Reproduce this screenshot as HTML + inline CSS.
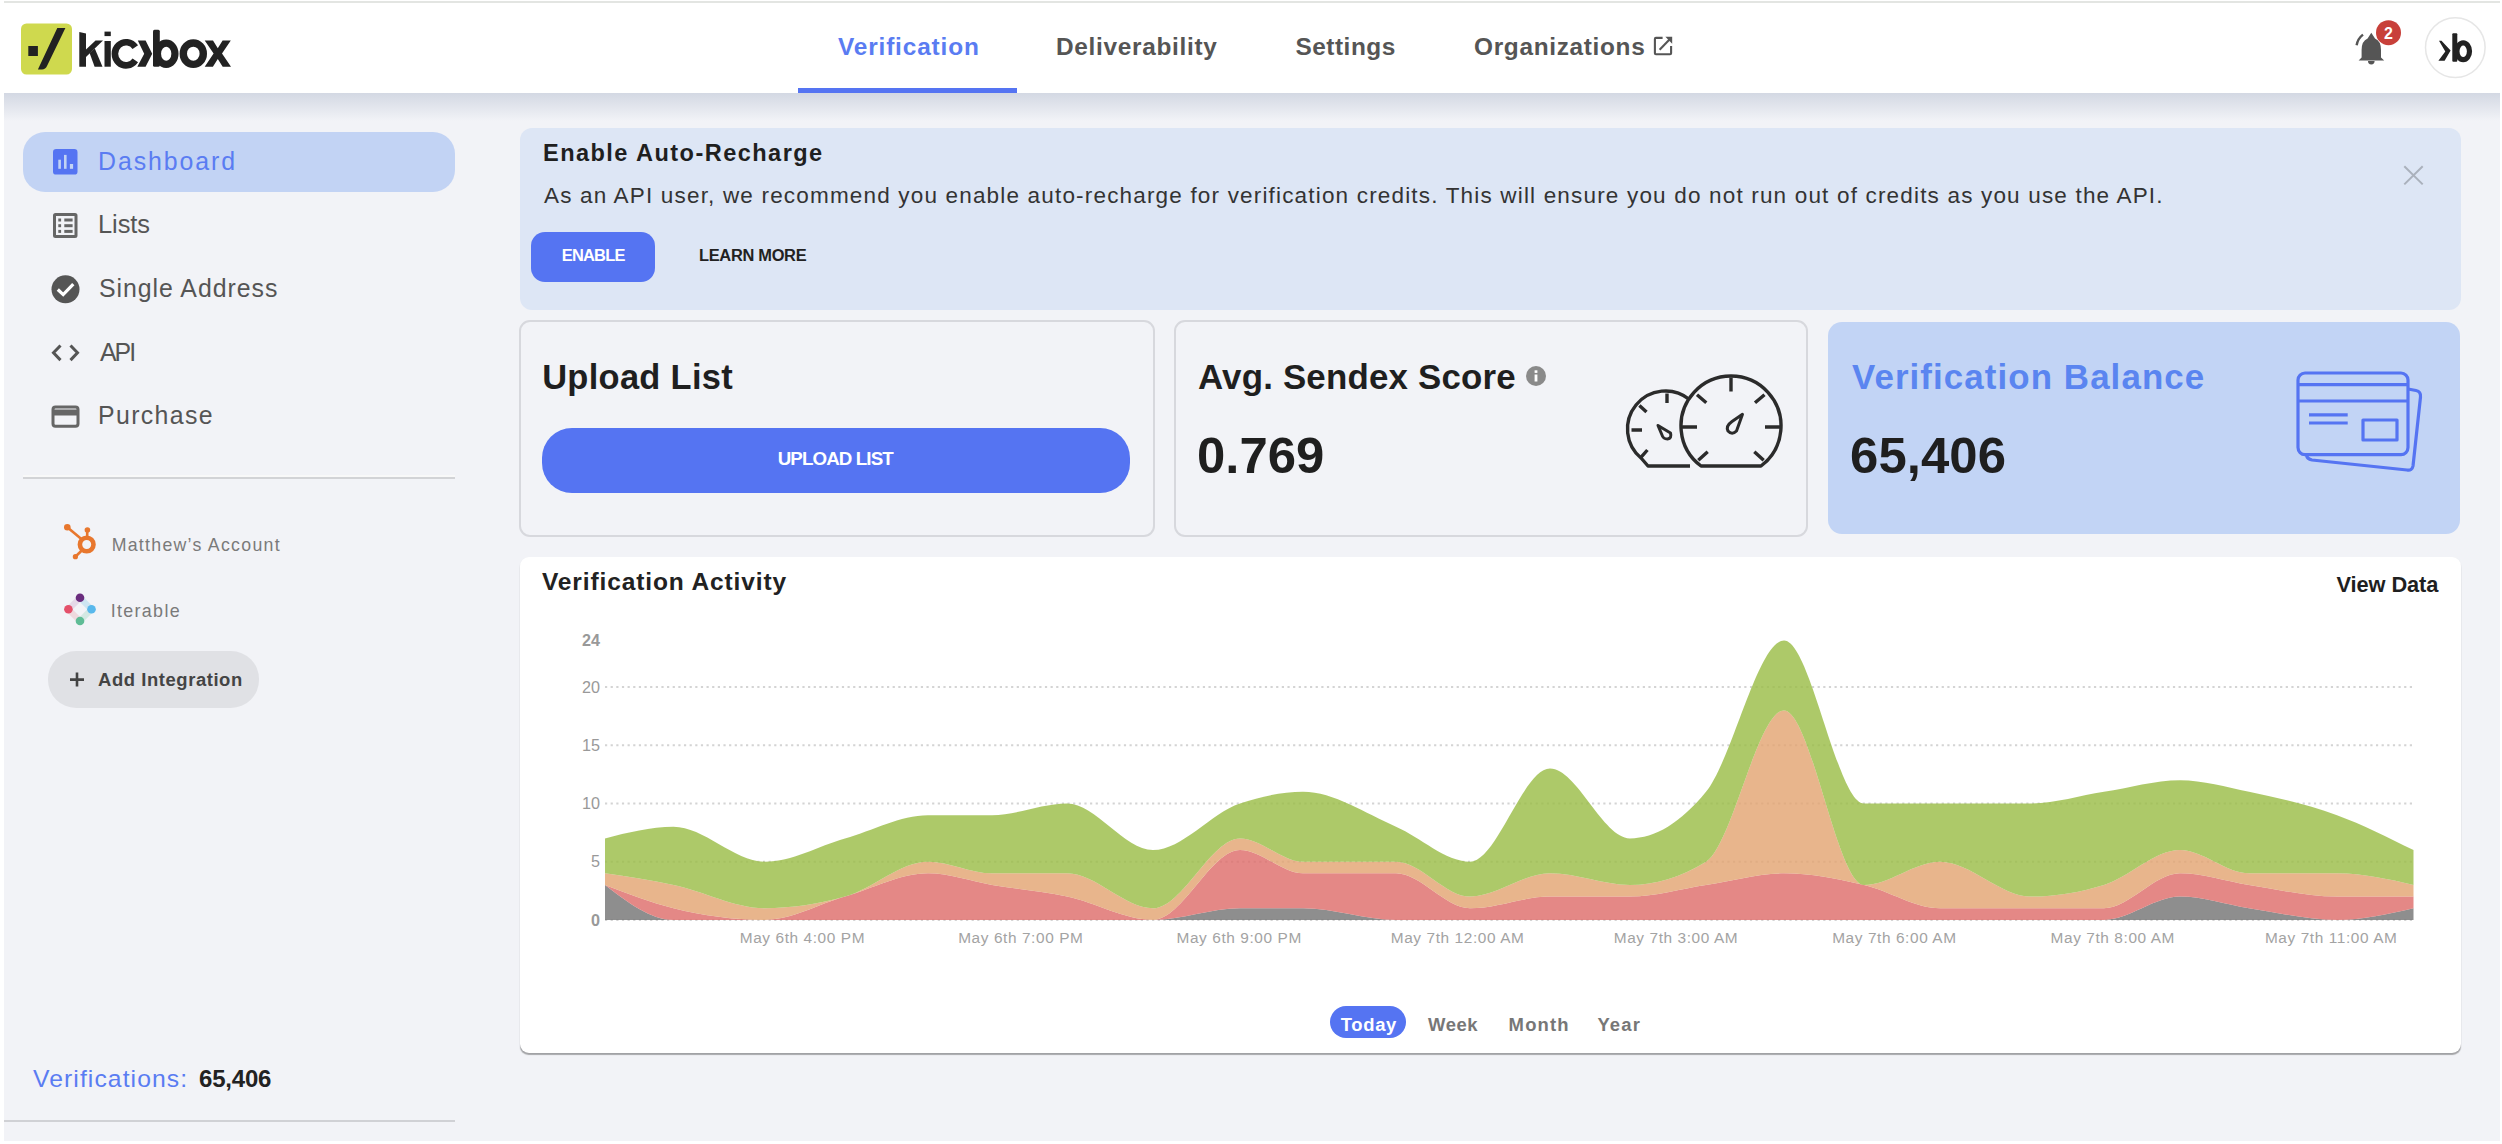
<!DOCTYPE html><html><head><meta charset="utf-8"><title>Kickbox Dashboard</title><style>
html,body{margin:0;padding:0;}body{width:2502px;height:1144px;position:relative;overflow:hidden;background:#fff;font-family:"Liberation Sans", sans-serif;}
.a{position:absolute;}.t{position:absolute;white-space:nowrap;}
</style></head><body>
<div class="a" style="left:4px;top:1px;width:2496px;height:2px;background:#e3e5e2"></div>
<div class="a" style="left:4px;top:93px;width:2496px;height:1048px;background:#f2f3f7"></div>
<div class="a" style="left:4px;top:93px;width:2496px;height:28px;background:linear-gradient(#d3d8e3,rgba(242,243,247,0))"></div>
<!-- logo -->
<svg class="a" style="left:0;top:0" width="260" height="93" viewBox="0 0 260 93">
  <rect x="21" y="23.5" width="51" height="51" rx="5.5" fill="#cfd94e"/>
  <rect x="28.3" y="46" width="9.6" height="10" fill="#222"/>
  <path d="M57.3,28 L65.4,28 L47,66 Q45.5,69.4 42,69.4 L37.9,69.4 Z" fill="#222"/>
  <g fill="#222">
    <path d="M79.3,32 L86,33.5 L86,66.7 L79.3,66.7 Z"/>
    <path d="M86,49.5 L95.5,40.6 L103,40.6 L86,57 Z"/>
    <path d="M89.6,53 L94.8,48.5 L102.5,66.7 L94.6,66.7 Z"/>
    <rect x="104.5" y="41" width="6.3" height="25.7"/>
    <rect x="104.5" y="31.6" width="6.3" height="4.5"/>
  </g>
  <path d="M135.3,47.2 A11.2,11.6 0 1 0 135.3,60.4" fill="none" stroke="#222" stroke-width="6.6"/>
  <path d="M137.8,40.6 L145.6,40.6 L152.2,53.7 L145.6,66.7 L137.3,66.7 L144.2,53.7 Z" fill="#222"/>
  <rect x="153" y="29.8" width="6.8" height="36.9" rx="1.5" fill="#222"/>
  <ellipse cx="166.2" cy="53.7" rx="8.75" ry="10.6" fill="none" stroke="#222" stroke-width="7.2"/>
  <ellipse cx="193.3" cy="53.65" rx="10" ry="10.7" fill="none" stroke="#222" stroke-width="7.4"/>
  <path d="M204.7,40.6 L213,40.6 L217.8,48.2 L222.6,40.6 L230.8,40.6 L222,53.6 L231,66.7 L222.7,66.7 L217.8,59 L212.9,66.7 L204.7,66.7 L213.6,53.6 Z" fill="#222"/>
</svg>
<!-- external link icon -->
<svg class="a" style="left:1650px;top:34px" width="26" height="26" viewBox="1650 34 26 26">
  <path d="M1662.6,37.9 L1655.9,37.9 Q1654.9,37.9 1654.9,38.9 L1654.9,53.2 Q1654.9,54.2 1655.9,54.2 L1670.1,54.2 Q1671.1,54.2 1671.1,53.2 L1671.1,46" fill="none" stroke="#555" stroke-width="2.1"/>
  <path d="M1659.6,49.7 L1669.5,39.6" stroke="#555" stroke-width="2.1"/>
  <path d="M1665.4,36.8 L1672.2,36.8 L1672.2,43.8 Z" fill="#555"/>
</svg>
<!-- nav underline -->
<div class="a" style="left:798px;top:88px;width:219px;height:5px;background:#5574f2"></div>
<!-- bell -->
<svg class="a" style="left:2340px;top:15px" width="70" height="60" viewBox="2340 15 70 60">
  <path d="M2371.3,32.7 L2375,38.5 Q2381,41 2381,50 L2381,57.5 L2384.2,60.6 L2358.6,60.6 L2361.6,57.5 L2361.6,50 Q2361.6,41 2367.6,38.5 Z" fill="#555"/>
  <path d="M2368,61 L2374.6,61 Q2374.6,64.4 2371.3,64.4 Q2368,64.4 2368,61 Z" fill="#555"/>
  <path d="M2356.6,45.2 Q2357.8,38.5 2363,34.6" fill="none" stroke="#555" stroke-width="2.4"/>
  <circle cx="2388.5" cy="32.7" r="12.5" fill="#c8403a"/>
  <text x="2388.5" y="38.6" text-anchor="middle" font-family="Liberation Sans" font-weight="700" font-size="16" fill="#fff">2</text>
</svg>
<!-- avatar -->
<svg class="a" style="left:2420px;top:12px" width="72" height="72" viewBox="2420 12 72 72">
  <circle cx="2455.3" cy="47.6" r="29.8" fill="#fff" stroke="#e6e6e6" stroke-width="1.5"/>
  <path d="M2439,40.8 L2441.5,40.8 L2450.6,50.5 L2444.6,60.8 L2438.4,60.8 L2445.3,51.5 Z" fill="#222"/>
  <rect x="2452.3" y="33.2" width="5" height="28.6" rx="1" fill="#222"/>
  <ellipse cx="2463.2" cy="51.3" rx="6.3" ry="8.4" fill="none" stroke="#222" stroke-width="5.2"/>
</svg>
<!-- sidebar active pill -->
<div class="a" style="left:23px;top:132px;width:432px;height:60px;border-radius:22px;background:#c2d3f4"></div>
<!-- sidebar icons -->
<svg class="a" style="left:40px;top:140px" width="50" height="300" viewBox="40 140 50 300">
  <rect x="53" y="149" width="24.5" height="25.6" rx="3.2" fill="#5574f2"/>
  <rect x="58.3" y="159.7" width="2.6" height="9.1" fill="#c2d3f4"/>
  <rect x="64" y="154.9" width="2.6" height="13.9" fill="#c2d3f4"/>
  <rect x="69.9" y="164" width="3.2" height="4.8" fill="#c2d3f4"/>
  <rect x="54.5" y="214.5" width="21.5" height="22" rx="1" fill="none" stroke="#666" stroke-width="3"/>
  <g fill="#666">
    <rect x="58.3" y="218.5" width="2.8" height="3"/><rect x="64.3" y="218.5" width="8.3" height="3"/>
    <rect x="58.3" y="224.2" width="2.8" height="3"/><rect x="64.3" y="224.2" width="8.3" height="3"/>
    <rect x="58.3" y="229.9" width="2.8" height="3"/><rect x="64.3" y="229.9" width="8.3" height="3"/>
  </g>
  <circle cx="65.5" cy="289.3" r="14" fill="#555"/>
  <path d="M57.8,289.5 L63.2,294.6 L73.3,284.2" fill="none" stroke="#fff" stroke-width="3.2"/>
  <path d="M60.5,345.5 L53.5,352.8 L60.5,360.1 M70.5,345.5 L77.5,352.8 L70.5,360.1" fill="none" stroke="#555" stroke-width="3"/>
  <rect x="53" y="407" width="25" height="19.2" rx="2.5" fill="none" stroke="#666" stroke-width="3"/>
  <rect x="53" y="409.5" width="25" height="6" fill="#666"/>
</svg>
<!-- sidebar divider -->
<div class="a" style="left:23px;top:475px;width:432px;height:1.5px;background:#f8f8f8"></div><div class="a" style="left:23px;top:476.5px;width:432px;height:2px;background:#d2d3d6"></div>
<!-- hubspot + iterable -->
<svg class="a" style="left:55px;top:515px" width="50" height="120" viewBox="55 515 50 120">
  <g stroke="#e8772e" fill="#e8772e">
    <circle cx="86.7" cy="544.5" r="6.8" fill="none" stroke-width="4.6"/>
    <line x1="87.2" y1="531" x2="87.2" y2="538" stroke-width="2.6"/>
    <circle cx="87.4" cy="530" r="2.8" stroke="none"/>
    <line x1="67.3" y1="527.3" x2="82" y2="539.5" stroke-width="2.6"/>
    <circle cx="67.3" cy="527.3" r="3.3" stroke="none"/>
    <line x1="75.4" y1="556.7" x2="82.5" y2="549.8" stroke-width="2.6"/>
    <circle cx="75.4" cy="556.7" r="2.6" stroke="none"/>
  </g>
  <g stroke-width="6" opacity="0.3">
    <line x1="80" y1="597.8" x2="91.5" y2="609.3" stroke="#7fc6e8"/>
    <line x1="91.5" y1="609.3" x2="80" y2="621" stroke="#8fd0b8"/>
    <line x1="80" y1="621" x2="68.4" y2="609.3" stroke="#e9a0a8"/>
    <line x1="68.4" y1="609.3" x2="80" y2="597.8" stroke="#c9a0c8"/>
  </g>
  <circle cx="80" cy="597.8" r="4.3" fill="#6a2c7e"/>
  <circle cx="68.4" cy="609.3" r="4.3" fill="#e4506a"/>
  <circle cx="91.5" cy="609.3" r="4.3" fill="#59b8ec"/>
  <circle cx="80" cy="621" r="4.3" fill="#5fbc96"/>
</svg>
<!-- add integration btn -->
<div class="a" style="left:48px;top:651px;width:211px;height:57px;border-radius:28px;background:#e0e1e5"></div>
<svg class="a" style="left:65px;top:670px" width="24" height="20" viewBox="65 670 24 20">
  <path d="M77,672.5 L77,686.5 M70,679.6 L84,679.6" stroke="#444" stroke-width="2.6"/>
</svg>
<!-- bottom divider -->
<div class="a" style="left:4px;top:1120px;width:451px;height:2px;background:#d0d1d5"></div>
<!-- banner -->
<div class="a" style="left:520px;top:128px;width:1941px;height:182px;border-radius:12px;background:#dde6f5"></div>
<div class="a" style="left:531px;top:231.5px;width:124px;height:50.5px;border-radius:14px;background:#5574f2"></div>
<svg class="a" style="left:2400px;top:162px" width="28" height="28" viewBox="2400 162 28 28">
  <path d="M2404.3,166.3 L2422.7,184.4 M2422.7,166.3 L2404.3,184.4" stroke="#aab1bc" stroke-width="2"/>
</svg>
<!-- cards -->
<div class="a" style="left:518.5px;top:319.5px;width:632px;height:213px;border:2px solid #d7d8dd;border-radius:11px"></div>
<div class="a" style="left:542px;top:428px;width:588px;height:65px;border-radius:30px;background:#5574f2"></div>
<div class="a" style="left:1173.5px;top:319.5px;width:630px;height:213px;border:2px solid #d7d8dd;border-radius:11px"></div>
<svg class="a" style="left:1520px;top:360px" width="32" height="32" viewBox="1520 360 32 32">
  <circle cx="1536" cy="376" r="10" fill="#8a8a8a"/>
  <rect x="1534.6" y="374.5" width="2.8" height="7" fill="#fff"/>
  <rect x="1534.6" y="370.3" width="2.8" height="2.6" fill="#fff"/>
</svg>
<!-- gauge icon -->
<svg class="a" style="left:1615px;top:365px" width="180" height="115" viewBox="1615 365 180 115">
  <g fill="none" stroke="#2b2b2b" stroke-width="3.4" stroke-linejoin="round" stroke-linecap="butt">
    <path d="M1690,466 L1648,466 L1641.5,458.5 A38,38 0 0 1 1689.5,399.5"/>
    <path d="M1667,393.5 L1667,403 M1631.5,430 L1642,430 M1639.4,405.4 L1646.5,412 M1640.7,457.6 L1647.4,450"/>
    <path d="M1658,425.5 L1670.5,433 Q1672,438.5 1667.5,439 Q1663,439 1662,435 Z" stroke-width="3"/>
    <path d="M1701,466 L1761,466 A50,50 0 1 0 1701,466 Z"/>
    <path d="M1731,377.5 L1731,391.5 M1681.5,427 L1697,427 M1765,427 L1781,427 M1697,394.7 L1706.3,402.7 M1764.5,394.7 L1755,402.7 M1698.3,460.3 L1707.7,451.8 M1763.7,460.3 L1754.3,451.8"/>
    <path d="M1742.5,414.3 L1732,421.5 Q1725.5,426 1728,431 Q1732,435.5 1736.5,431 Z" stroke-width="3"/>
  </g>
</svg>
<div class="a" style="left:1828px;top:321.5px;width:632px;height:212.5px;border-radius:14px;background:#c2d4f5"></div>
<!-- credit card icon -->
<svg class="a" style="left:2290px;top:365px" width="140" height="115" viewBox="2290 365 140 115">
  <g fill="none" stroke="#5574f2" stroke-width="3.2" stroke-linejoin="round">
    <rect x="2298" y="373" width="110" height="81.6" rx="7"/>
    <path d="M2298,384.6 L2408,384.6 M2298,401 L2408,401"/>
    <path d="M2309,414.8 L2347.7,414.8 M2309,423 L2347.7,423"/>
    <rect x="2363" y="420" width="34" height="20"/>
    <path d="M2408,389 L2416,390.5 Q2421,391.5 2420.5,397 L2413,466 Q2412,471 2407,470 L2312,460 Q2307,459 2306.5,455"/>
  </g>
</svg>
<!-- chart card -->
<div class="a" style="left:520px;top:557px;width:1940.5px;height:495.5px;border-radius:9px;background:#fff;box-shadow:0 2.5px 1px -0.5px rgba(0,0,0,.3),0 1px 2px 0 rgba(0,0,0,.06)"></div>
<!-- today pill -->
<div class="a" style="left:1330.4px;top:1006px;width:75.6px;height:32.3px;border-radius:16px;background:#5574f2"></div>

<svg class="a" style="left:0;top:0" width="2502" height="1144" viewBox="0 0 2502 1144"><line x1="605" y1="919.9" x2="2414.5" y2="919.9" stroke="#d4d4d4" stroke-width="2" stroke-dasharray="2.2 3.44"/><line x1="605" y1="861.7" x2="2414.5" y2="861.7" stroke="#d4d4d4" stroke-width="2" stroke-dasharray="2.2 3.44"/><line x1="605" y1="803.5" x2="2414.5" y2="803.5" stroke="#d4d4d4" stroke-width="2" stroke-dasharray="2.2 3.44"/><line x1="605" y1="745.3" x2="2414.5" y2="745.3" stroke="#d4d4d4" stroke-width="2" stroke-dasharray="2.2 3.44"/><line x1="605" y1="687.1" x2="2414.5" y2="687.1" stroke="#d4d4d4" stroke-width="2" stroke-dasharray="2.2 3.44"/><path d="M605,884.98C627.83,902.44,650.67,919.9,673.5,919.9C704,919.9,734.5,919.9,765,919.9C791.67,919.9,818.33,919.9,845,919.9C872.67,919.9,900.33,919.9,928,919.9C949.33,919.9,970.67,919.9,992,919.9C1017,919.9,1042,919.9,1067,919.9C1095.67,919.9,1124.33,919.9,1153,919.9C1182,919.9,1211,908.26,1240,908.26C1261,908.26,1282,908.26,1303,908.26C1334,908.26,1365,919.9,1396,919.9C1420.67,919.9,1445.33,919.9,1470,919.9C1496.67,919.9,1523.33,919.9,1550,919.9C1576.67,919.9,1603.33,919.9,1630,919.9C1655.33,919.9,1680.67,919.9,1706,919.9C1732,919.9,1758,919.9,1784,919.9C1810.67,919.9,1837.33,919.9,1864,919.9C1889.33,919.9,1914.67,919.9,1940,919.9C1970.33,919.9,2000.67,919.9,2031,919.9C2055.33,919.9,2079.67,919.9,2104,919.9C2129.33,919.9,2154.67,896.62,2180,896.62C2203,896.62,2226,904.75,2249,908.26C2278.33,912.74,2307.67,919.9,2337,919.9C2362.5,919.9,2388,914.08,2413.5,908.26L2413.5,919.9C2388,919.9,2362.5,919.9,2337,919.9C2307.67,919.9,2278.33,919.9,2249,919.9C2226,919.9,2203,919.9,2180,919.9C2154.67,919.9,2129.33,919.9,2104,919.9C2079.67,919.9,2055.33,919.9,2031,919.9C2000.67,919.9,1970.33,919.9,1940,919.9C1914.67,919.9,1889.33,919.9,1864,919.9C1837.33,919.9,1810.67,919.9,1784,919.9C1758,919.9,1732,919.9,1706,919.9C1680.67,919.9,1655.33,919.9,1630,919.9C1603.33,919.9,1576.67,919.9,1550,919.9C1523.33,919.9,1496.67,919.9,1470,919.9C1445.33,919.9,1420.67,919.9,1396,919.9C1365,919.9,1334,919.9,1303,919.9C1282,919.9,1261,919.9,1240,919.9C1211,919.9,1182,919.9,1153,919.9C1124.33,919.9,1095.67,919.9,1067,919.9C1042,919.9,1017,919.9,992,919.9C970.67,919.9,949.33,919.9,928,919.9C900.33,919.9,872.67,919.9,845,919.9C818.33,919.9,791.67,919.9,765,919.9C734.5,919.9,704,919.9,673.5,919.9C650.67,919.9,627.83,919.9,605,919.9Z" fill="#727272" fill-opacity="0.8"/><path d="M605,884.98C627.83,893.78,650.67,902.58,673.5,908.26C704,915.85,734.5,919.9,765,919.9C791.67,919.9,818.33,904.24,845,896.62C872.67,888.71,900.33,873.34,928,873.34C949.33,873.34,970.67,881.36,992,884.98C1017,889.22,1042,891.39,1067,896.62C1095.67,902.61,1124.33,919.9,1153,919.9C1182,919.9,1211,850.06,1240,850.06C1261,850.06,1282,873.34,1303,873.34C1334,873.34,1365,873.34,1396,873.34C1420.67,873.34,1445.33,908.26,1470,908.26C1496.67,908.26,1523.33,896.62,1550,896.62C1576.67,896.62,1603.33,896.62,1630,896.62C1655.33,896.62,1680.67,888.81,1706,884.98C1732,881.05,1758,873.34,1784,873.34C1810.67,873.34,1837.33,878.9,1864,884.98C1889.33,890.76,1914.67,908.26,1940,908.26C1970.33,908.26,2000.67,908.26,2031,908.26C2055.33,908.26,2079.67,908.26,2104,908.26C2129.33,908.26,2154.67,873.34,2180,873.34C2203,873.34,2226,881.47,2249,884.98C2278.33,889.46,2307.67,896.62,2337,896.62C2362.5,896.62,2388,896.62,2413.5,896.62L2413.5,908.26C2388,914.08,2362.5,919.9,2337,919.9C2307.67,919.9,2278.33,912.74,2249,908.26C2226,904.75,2203,896.62,2180,896.62C2154.67,896.62,2129.33,919.9,2104,919.9C2079.67,919.9,2055.33,919.9,2031,919.9C2000.67,919.9,1970.33,919.9,1940,919.9C1914.67,919.9,1889.33,919.9,1864,919.9C1837.33,919.9,1810.67,919.9,1784,919.9C1758,919.9,1732,919.9,1706,919.9C1680.67,919.9,1655.33,919.9,1630,919.9C1603.33,919.9,1576.67,919.9,1550,919.9C1523.33,919.9,1496.67,919.9,1470,919.9C1445.33,919.9,1420.67,919.9,1396,919.9C1365,919.9,1334,908.26,1303,908.26C1282,908.26,1261,908.26,1240,908.26C1211,908.26,1182,919.9,1153,919.9C1124.33,919.9,1095.67,919.9,1067,919.9C1042,919.9,1017,919.9,992,919.9C970.67,919.9,949.33,919.9,928,919.9C900.33,919.9,872.67,919.9,845,919.9C818.33,919.9,791.67,919.9,765,919.9C734.5,919.9,704,919.9,673.5,919.9C650.67,919.9,627.83,902.44,605,884.98Z" fill="#dd6a68" fill-opacity="0.8"/><path d="M605,873.34C627.83,876.81,650.67,880.27,673.5,884.98C704,891.27,734.5,908.26,765,908.26C791.67,908.26,818.33,904.1,845,896.62C872.67,888.86,900.33,861.7,928,861.7C949.33,861.7,970.67,873.34,992,873.34C1017,873.34,1042,873.34,1067,873.34C1095.67,873.34,1124.33,908.26,1153,908.26C1182,908.26,1211,838.42,1240,838.42C1261,838.42,1282,861.7,1303,861.7C1334,861.7,1365,861.7,1396,861.7C1420.67,861.7,1445.33,896.62,1470,896.62C1496.67,896.62,1523.33,873.34,1550,873.34C1576.67,873.34,1603.33,884.98,1630,884.98C1655.33,884.98,1680.67,877.22,1706,861.7C1732,845.77,1758,710.38,1784,710.38C1810.67,710.38,1837.33,884.98,1864,884.98C1889.33,884.98,1914.67,861.7,1940,861.7C1970.33,861.7,2000.67,896.62,2031,896.62C2055.33,896.62,2079.67,892.44,2104,884.98C2129.33,877.22,2154.67,850.06,2180,850.06C2203,850.06,2226,873.34,2249,873.34C2278.33,873.34,2307.67,873.34,2337,873.34C2362.5,873.34,2388,879.16,2413.5,884.98L2413.5,896.62C2388,896.62,2362.5,896.62,2337,896.62C2307.67,896.62,2278.33,889.46,2249,884.98C2226,881.47,2203,873.34,2180,873.34C2154.67,873.34,2129.33,908.26,2104,908.26C2079.67,908.26,2055.33,908.26,2031,908.26C2000.67,908.26,1970.33,908.26,1940,908.26C1914.67,908.26,1889.33,890.76,1864,884.98C1837.33,878.9,1810.67,873.34,1784,873.34C1758,873.34,1732,881.05,1706,884.98C1680.67,888.81,1655.33,896.62,1630,896.62C1603.33,896.62,1576.67,896.62,1550,896.62C1523.33,896.62,1496.67,908.26,1470,908.26C1445.33,908.26,1420.67,873.34,1396,873.34C1365,873.34,1334,873.34,1303,873.34C1282,873.34,1261,850.06,1240,850.06C1211,850.06,1182,919.9,1153,919.9C1124.33,919.9,1095.67,902.61,1067,896.62C1042,891.39,1017,889.22,992,884.98C970.67,881.36,949.33,873.34,928,873.34C900.33,873.34,872.67,888.71,845,896.62C818.33,904.24,791.67,919.9,765,919.9C734.5,919.9,704,915.85,673.5,908.26C650.67,902.58,627.83,893.78,605,884.98Z" fill="#e2a26f" fill-opacity="0.8"/><path d="M605,838.42C627.83,832.6,650.67,826.78,673.5,826.78C704,826.78,734.5,861.7,765,861.7C791.67,861.7,818.33,846.04,845,838.42C872.67,830.51,900.33,815.14,928,815.14C949.33,815.14,970.67,815.14,992,815.14C1017,815.14,1042,803.5,1067,803.5C1095.67,803.5,1124.33,850.06,1153,850.06C1182,850.06,1211,813.13,1240,803.5C1261,796.53,1282,791.86,1303,791.86C1334,791.86,1365,813.48,1396,826.78C1420.67,837.37,1445.33,861.7,1470,861.7C1496.67,861.7,1523.33,768.58,1550,768.58C1576.67,768.58,1603.33,838.42,1630,838.42C1655.33,838.42,1680.67,822.9,1706,791.86C1732,760,1758,640.54,1784,640.54C1810.67,640.54,1837.33,803.5,1864,803.5C1889.33,803.5,1914.67,803.5,1940,803.5C1970.33,803.5,2000.67,803.5,2031,803.5C2055.33,803.5,2079.67,795.66,2104,791.86C2129.33,787.9,2154.67,780.22,2180,780.22C2203,780.22,2226,787.01,2249,791.86C2278.33,798.04,2307.67,804.37,2337,815.14C2362.5,824.5,2388,837.28,2413.5,850.06L2413.5,884.98C2388,879.16,2362.5,873.34,2337,873.34C2307.67,873.34,2278.33,873.34,2249,873.34C2226,873.34,2203,850.06,2180,850.06C2154.67,850.06,2129.33,877.22,2104,884.98C2079.67,892.44,2055.33,896.62,2031,896.62C2000.67,896.62,1970.33,861.7,1940,861.7C1914.67,861.7,1889.33,884.98,1864,884.98C1837.33,884.98,1810.67,710.38,1784,710.38C1758,710.38,1732,845.77,1706,861.7C1680.67,877.22,1655.33,884.98,1630,884.98C1603.33,884.98,1576.67,873.34,1550,873.34C1523.33,873.34,1496.67,896.62,1470,896.62C1445.33,896.62,1420.67,861.7,1396,861.7C1365,861.7,1334,861.7,1303,861.7C1282,861.7,1261,838.42,1240,838.42C1211,838.42,1182,908.26,1153,908.26C1124.33,908.26,1095.67,873.34,1067,873.34C1042,873.34,1017,873.34,992,873.34C970.67,873.34,949.33,861.7,928,861.7C900.33,861.7,872.67,888.86,845,896.62C818.33,904.1,791.67,908.26,765,908.26C734.5,908.26,704,891.27,673.5,884.98C650.67,880.27,627.83,876.81,605,873.34Z" fill="#98bb43" fill-opacity="0.8"/></svg>
<div class="t" style="left:540px;width:60px;text-align:right;top:632.1px;font-size:16.2px;line-height:16.2px;color:#999;font-weight:700">24</div>
<div class="t" style="left:540px;width:60px;text-align:right;top:678.7px;font-size:16.2px;line-height:16.2px;color:#999;font-weight:400">20</div>
<div class="t" style="left:540px;width:60px;text-align:right;top:736.9px;font-size:16.2px;line-height:16.2px;color:#999;font-weight:400">15</div>
<div class="t" style="left:540px;width:60px;text-align:right;top:795.1px;font-size:16.2px;line-height:16.2px;color:#999;font-weight:400">10</div>
<div class="t" style="left:540px;width:60px;text-align:right;top:853.3px;font-size:16.2px;line-height:16.2px;color:#999;font-weight:400">5</div>
<div class="t" style="left:540px;width:60px;text-align:right;top:911.5px;font-size:16.2px;line-height:16.2px;color:#999;font-weight:700">0</div>
<div class="t" style="left:702.4px;width:200px;text-align:center;top:929.8px;font-size:15.4px;line-height:15.4px;color:#a3a3a3;letter-spacing:0.6px">May 6th 4:00 PM</div>
<div class="t" style="left:920.8px;width:200px;text-align:center;top:929.8px;font-size:15.4px;line-height:15.4px;color:#a3a3a3;letter-spacing:0.6px">May 6th 7:00 PM</div>
<div class="t" style="left:1139.2px;width:200px;text-align:center;top:929.8px;font-size:15.4px;line-height:15.4px;color:#a3a3a3;letter-spacing:0.6px">May 6th 9:00 PM</div>
<div class="t" style="left:1357.6px;width:200px;text-align:center;top:929.8px;font-size:15.4px;line-height:15.4px;color:#a3a3a3;letter-spacing:0.6px">May 7th 12:00 AM</div>
<div class="t" style="left:1576.0px;width:200px;text-align:center;top:929.8px;font-size:15.4px;line-height:15.4px;color:#a3a3a3;letter-spacing:0.6px">May 7th 3:00 AM</div>
<div class="t" style="left:1794.4px;width:200px;text-align:center;top:929.8px;font-size:15.4px;line-height:15.4px;color:#a3a3a3;letter-spacing:0.6px">May 7th 6:00 AM</div>
<div class="t" style="left:2012.8px;width:200px;text-align:center;top:929.8px;font-size:15.4px;line-height:15.4px;color:#a3a3a3;letter-spacing:0.6px">May 7th 8:00 AM</div>
<div class="t" style="left:2231.2px;width:200px;text-align:center;top:929.8px;font-size:15.4px;line-height:15.4px;color:#a3a3a3;letter-spacing:0.6px">May 7th 11:00 AM</div>
<div class="t" style="left:838.0px;top:34.8px;font-size:24.42px;line-height:24.42px;font-weight:700;color:#5a7cf2;letter-spacing:0.84px">Verification</div>
<div class="t" style="left:1056.0px;top:34.8px;font-size:24.42px;line-height:24.42px;font-weight:700;color:#555555;letter-spacing:0.69px">Deliverability</div>
<div class="t" style="left:1295.5px;top:34.8px;font-size:24.42px;line-height:24.42px;font-weight:700;color:#555555;letter-spacing:0.50px">Settings</div>
<div class="t" style="left:1474.0px;top:34.8px;font-size:24.42px;line-height:24.42px;font-weight:700;color:#555555;letter-spacing:0.67px">Organizations</div>
<div class="t" style="left:98.1px;top:149.0px;font-size:24.86px;line-height:24.86px;font-weight:400;color:#5a7cf2;letter-spacing:1.91px">Dashboard</div>
<div class="t" style="left:98.0px;top:212.1px;font-size:25.44px;line-height:25.44px;font-weight:400;color:#555555;letter-spacing:-0.08px">Lists</div>
<div class="t" style="left:99.0px;top:275.8px;font-size:24.86px;line-height:24.86px;font-weight:400;color:#555555;letter-spacing:0.96px">Single Address</div>
<div class="t" style="left:100.0px;top:339.8px;font-size:24.86px;line-height:24.86px;font-weight:400;color:#555555;letter-spacing:-2.00px">API</div>
<div class="t" style="left:98.0px;top:403.0px;font-size:24.86px;line-height:24.86px;font-weight:400;color:#555555;letter-spacing:1.36px">Purchase</div>
<div class="t" style="left:111.7px;top:537.4px;font-size:17.73px;line-height:17.73px;font-weight:400;color:#7a7a7a;letter-spacing:1.28px">Matthew’s Account</div>
<div class="t" style="left:110.7px;top:602.5px;font-size:17.88px;line-height:17.88px;font-weight:400;color:#7a7a7a;letter-spacing:1.34px">Iterable</div>
<div class="t" style="left:98.0px;top:671.2px;font-size:18.46px;line-height:18.46px;font-weight:700;color:#444444;letter-spacing:0.57px">Add Integration</div>
<div class="t" style="left:33.0px;top:1067.1px;font-size:24.71px;line-height:24.71px;font-weight:400;color:#5a7cf2;letter-spacing:1.08px">Verifications:</div>
<div class="t" style="left:199.0px;top:1066.7px;font-size:24.01px;line-height:24.01px;font-weight:700;color:#222222;letter-spacing:-0.20px">65,406</div>
<div class="t" style="left:543.0px;top:141.5px;font-size:23.55px;line-height:23.55px;font-weight:700;color:#1f1f1f;letter-spacing:1.45px">Enable Auto-Recharge</div>
<div class="t" style="left:544.0px;top:184.8px;font-size:22.53px;line-height:22.53px;font-weight:400;color:#333333;letter-spacing:1.17px">As an API user, we recommend you enable auto-recharge for verification credits. This will ensure you do not run out of credits as you use the API.</div>
<div class="t" style="left:561.7px;top:247.1px;font-size:16.42px;line-height:16.42px;font-weight:700;color:#ffffff;letter-spacing:-0.74px">ENABLE</div>
<div class="t" style="left:699.0px;top:247.1px;font-size:16.42px;line-height:16.42px;font-weight:700;color:#222222;letter-spacing:-0.30px">LEARN MORE</div>
<div class="t" style="left:542.2px;top:359.6px;font-size:34.45px;line-height:34.45px;font-weight:700;color:#1f1f1f;letter-spacing:0.30px">Upload List</div>
<div class="t" style="left:777.7px;top:449.9px;font-size:18.75px;line-height:18.75px;font-weight:700;color:#ffffff;letter-spacing:-0.90px">UPLOAD LIST</div>
<div class="t" style="left:1198.0px;top:359.7px;font-size:34.88px;line-height:34.88px;font-weight:700;color:#1f1f1f;letter-spacing:0.19px">Avg. Sendex Score</div>
<div class="t" style="left:1197.0px;top:431.0px;font-size:50.85px;line-height:50.85px;font-weight:700;color:#1f1f1f;letter-spacing:0.00px">0.769</div>
<div class="t" style="left:1852.0px;top:359.7px;font-size:34.88px;line-height:34.88px;font-weight:700;color:#5a85f0;letter-spacing:1.09px">Verification Balance</div>
<div class="t" style="left:1850.0px;top:431.0px;font-size:50.85px;line-height:50.85px;font-weight:700;color:#1f1f1f;letter-spacing:0.10px">65,406</div>
<div class="t" style="left:541.9px;top:570.0px;font-size:24.56px;line-height:24.56px;font-weight:700;color:#222222;letter-spacing:0.87px">Verification Activity</div>
<div class="t" style="left:2336.5px;top:573.5px;font-size:21.80px;line-height:21.80px;font-weight:700;color:#1f1f1f;letter-spacing:-0.09px">View Data</div>
<div class="t" style="left:1340.7px;top:1015.8px;font-size:18.46px;line-height:18.46px;font-weight:700;color:#ffffff;letter-spacing:0.68px">Today</div>
<div class="t" style="left:1428.0px;top:1015.8px;font-size:18.46px;line-height:18.46px;font-weight:700;color:#777777;letter-spacing:0.57px">Week</div>
<div class="t" style="left:1508.6px;top:1015.8px;font-size:18.46px;line-height:18.46px;font-weight:700;color:#777777;letter-spacing:1.18px">Month</div>
<div class="t" style="left:1597.4px;top:1015.8px;font-size:18.46px;line-height:18.46px;font-weight:700;color:#777777;letter-spacing:1.20px">Year</div>
</body></html>
